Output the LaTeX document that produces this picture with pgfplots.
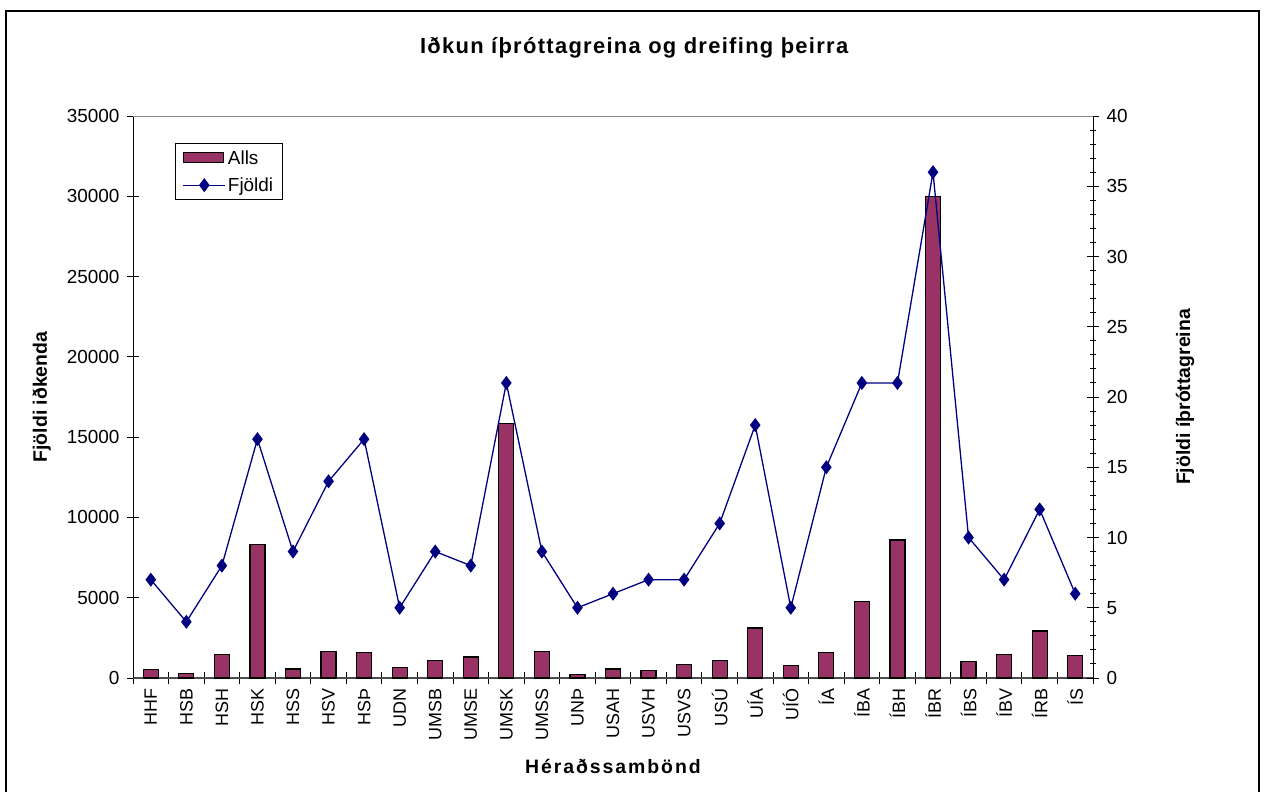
\documentclass[border=0pt]{standalone}
\usepackage{pgfplots}
\pgfplotsset{compat=1.18}
\usepackage{pgfplotstable}
\usepackage{fontspec}
\setmainfont{Liberation Sans}
\newfontfamily\spaced{Liberation Sans}[LetterSpace=10]
\newfontfamily\titlefont{Liberation Sans}[LetterSpace=6]
\definecolor{barcol}{RGB}{153,51,102}
\definecolor{linecol}{RGB}{0,0,128}
\pgfplotstableread{
x Alls Fjoldi
0 550 7
1 290 4
2 1470 8
3 8320 17
4 560 9
5 1660 14
6 1575 17
7 665 5
8 1100 9
9 1310 8
10 15850 21
11 1660 9
12 205 5
13 560 6
14 480 7
15 850 7
16 1100 11
17 3115 18
18 770 5
19 1575 15
20 4750 21
21 8590 21
22 30000 36
23 1015 10
24 1475 7
25 2925 12
26 1390 6
}\datatable
\pgfplotsset{
  /pgf/number format/assume math mode=true,
  /pgf/number format/1000 sep={},
  widelineleg/.style={legend image code/.code={\draw[mark repeat=2,mark phase=2,##1] plot coordinates {(0bp,0bp) (21bp,0bp) (42bp,0bp)};}},
  widebarleg/.style={legend image code/.code={\draw[fill=barcol, draw=black, line width=1bp] (0bp,-5bp) rectangle (40bp,5bp);}},
}
\begin{document}
\begin{tikzpicture}
\begin{axis}[
  at={(133bp,-678bp)}, anchor=south west,
  width=960bp, height=562bp, scale only axis,
  xmin=-0.5, xmax=26.5, ymin=0, ymax=35000,
  axis y line*=left, axis x line*=bottom,
  x axis line style={black!70, line width=1.2bp, -},
  y axis line style={black, line width=1bp, -},
  ytick={0,5000,10000,15000,20000,25000,30000,35000},
  scaled y ticks=false,
  tick align=center, major tick length=12bp,
  tick style={black, line width=1bp},
  xtick={-0.5,0.5,1.5,2.5,3.5,4.5,5.5,6.5,7.5,8.5,9.5,10.5,11.5,12.5,13.5,14.5,15.5,16.5,17.5,18.5,19.5,20.5,21.5,22.5,23.5,24.5,25.5,26.5},
  xticklabel={\relax},
  extra x ticks={0,1,2,3,4,5,6,7,8,9,10,11,12,13,14,15,16,17,18,19,20,21,22,23,24,25,26},
  extra x tick labels={HHF,HSB,HSH,HSK,HSS,HSV,HSÞ,UDN,UMSB,UMSE,UMSK,UMSS,UNÞ,USAH,USVH,USVS,USÚ,UÍA,UÍÓ,ÍA,ÍBA,ÍBH,ÍBR,ÍBS,ÍBV,ÍRB,ÍS},
  extra x tick style={tick style={draw=none}},
  yticklabel style={xshift=-4bp, font=\fontsize{19}{22}\selectfont},
  xticklabel style={rotate=90, anchor=east, xshift=-1bp, font=\fontsize{18}{21}\selectfont},
  ylabel={Fjöldi iðkenda},
  ylabel style={font=\bfseries\fontsize{19.5}{23}\selectfont, at={(axis description cs:-0.095,0.5)}, anchor=center},
  xlabel={Héraðssambönd},
  xlabel style={font=\spaced\bfseries\fontsize{19.5}{23}\selectfont, at={(axis description cs:0.5,-0.158)}, anchor=center},
  title={Iðkun íþróttagreina og dreifing þeirra},
  title style={font=\titlefont\bfseries\fontsize{22}{26}\selectfont, at={(axis description cs:0.522,1.11)}, anchor=center},
]
\addplot[ybar, bar width=15bp, fill=barcol, draw=black, line width=1.2bp] table[x=x,y=Alls]{\datatable};
\end{axis}
\begin{axis}[
  at={(133bp,-678bp)}, anchor=south west,
  width=960bp, height=562bp, scale only axis,
  xmin=-0.5, xmax=26.5, ymin=0, ymax=40,
  axis y line*=right, axis x line*=top,
  x axis line style={black!45, line width=1bp, -},
  y axis line style={black, line width=1bp, -},
  xtick=\empty,
  ytick={0,5,10,15,20,25,30,35,40},
  minor y tick num=4, minor tick length=6bp,
  tick align=center, major tick length=12bp,
  tick style={black, line width=1bp},
  yticklabel style={xshift=4bp, font=\fontsize{19}{22}\selectfont},
  ylabel={Fjöldi íþróttagreina},
  ylabel style={font=\bfseries\fontsize{19.5}{23}\selectfont, at={(axis description cs:1.0958,0.5)}, anchor=center},
  legend style={at={(0.044,0.952)}, anchor=north west, draw=black, line width=0.8bp,
    font=\fontsize{19}{22}\selectfont, row sep=8bp, inner xsep=7bp, inner ysep=5bp},
  legend cell align=left,
]
\addlegendimage{widebarleg}
\addlegendentry{Alls}
\addplot[linecol, line width=1.3bp, mark=diamond*, mark size=6bp, mark options={fill=linecol, solid}, widelineleg]
  table[x=x,y=Fjoldi]{\datatable};
\addlegendentry{Fjöldi}
\end{axis}
\draw[line width=1.5bp] (6bp,-11bp) rectangle (1259bp,-800bp);
\pgfresetboundingbox
\useasboundingbox (0bp,0bp) rectangle (1266bp,-792bp);
\end{tikzpicture}
\end{document}
